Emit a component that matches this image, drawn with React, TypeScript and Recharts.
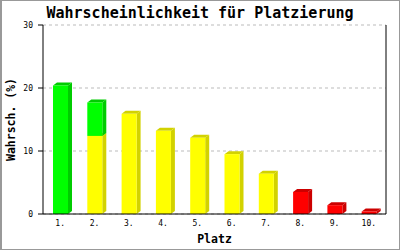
import { BarChart, Bar, XAxis, YAxis, CartesianGrid } from 'recharts';

const places = ['1.', '2.', '3.', '4.', '5.', '6.', '7.', '8.', '9.', '10.'];
const yellowValues = [0, 12.4, 15.9, 13.2, 12.1, 9.5, 6.4, 0, 0, 0];
const greenValues = [20.4, 5.3, 0, 0, 0, 0, 0, 0, 0, 0];
const redValues = [0, 0, 0, 0, 0, 0, 0, 3.5, 1.4, 0.4];
const yTicks = [0, 10, 20, 30];

const data = places.map((platz, i) => ({
  platz,
  gelb: yellowValues[i],
  gruen: greenValues[i],
  rot: redValues[i],
}));

const MONO = '"DejaVu Sans Mono", "Liberation Mono", monospace';
const DX = 4;
const DY = 3;

// flat bar with a darker side and top, like the old PHP chart images
function Box3D(props: any) {
  const { x, y, width, height, front, dark } = props;
  if (!height || height <= 0) return null;
  const r = x + width;
  const b = y + height;
  return (
    <g>
      <polygon points={`${r},${y} ${r + DX},${y - DY} ${r + DX},${b - DY} ${r},${b}`} fill={dark} />
      <polygon points={`${x},${y} ${x + DX},${y - DY} ${r + DX},${y - DY} ${r},${y}`} fill={dark} />
      <rect x={x} y={y} width={width} height={height} fill={front} />
    </g>
  );
}

const YTitle = (props: any) => {
  const vb = props.viewBox;
  const cy = vb.y + vb.height / 2;
  return (
    <text
      x={15}
      y={cy}
      transform={`rotate(-90 15 ${cy})`}
      textAnchor="middle"
      fontFamily={MONO}
      fontWeight="bold"
      fontSize={11.5}
      fill="#000"
    >
      Wahrsch. (%)
    </text>
  );
};

const XTitle = (props: any) => {
  const vb = props.viewBox;
  return (
    <text
      x={vb.x + vb.width / 2}
      y={243}
      textAnchor="middle"
      fontFamily={MONO}
      fontWeight="bold"
      fontSize={11.5}
      fill="#000"
    >
      Platz
    </text>
  );
};

export default function App() {
  return (
    <div style={{ position: 'fixed', top: 0, left: 0, width: 400, height: 250, background: '#fff' }}>
      <div
        style={{
          position: 'absolute',
          top: 2,
          left: 0,
          width: 400,
          textAlign: 'center',
          fontFamily: MONO,
          fontWeight: 'bold',
          fontSize: 15,
          lineHeight: '22px',
          color: '#000',
        }}
      >
        Wahrscheinlichkeit für Platzierung
      </div>
      <BarChart
        width={400}
        height={250}
        data={data}
        margin={{ top: 25, right: 0, left: 0, bottom: 16 }}
        barSize={15}
      >
        <CartesianGrid vertical={false} strokeDasharray="3 3" stroke="#bbb" />
        <XAxis
          dataKey="platz"
          height={20}
          tickLine={false}
          tickSize={0}
          tickMargin={6}
          axisLine={{ stroke: '#000' }}
          tick={{ fill: '#000', fontSize: 8, fontFamily: MONO }}
          label={<XTitle />}
        />
        <YAxis
          width={43}
          domain={[0, 30]}
          ticks={yTicks}
          tickSize={5}
          tickMargin={5}
          axisLine={{ stroke: '#000' }}
          tickLine={{ stroke: '#000' }}
          tick={{ fill: '#000', fontSize: 8, fontFamily: MONO }}
          label={<YTitle />}
        />
        <YAxis
          yAxisId="right"
          orientation="right"
          width={14}
          domain={[0, 30]}
          tick={false}
          tickLine={false}
          axisLine={{ stroke: '#000' }}
        />
        <Bar
          dataKey="gelb"
          stackId="a"
          isAnimationActive={false}
          shape={(p: any) => <Box3D {...p} front="#ffff00" dark="#d2d200" />}
        />
        <Bar
          dataKey="gruen"
          stackId="a"
          isAnimationActive={false}
          shape={(p: any) => <Box3D {...p} front="#00ff00" dark="#00cc00" />}
        />
        <Bar
          dataKey="rot"
          stackId="a"
          isAnimationActive={false}
          shape={(p: any) => <Box3D {...p} front="#ff0000" dark="#cc0000" />}
        />
      </BarChart>
      <div
        style={{
          position: 'absolute',
          inset: 0,
          border: '1px solid #999',
          borderLeftWidth: 2,
          pointerEvents: 'none',
        }}
      />
    </div>
  );
}
